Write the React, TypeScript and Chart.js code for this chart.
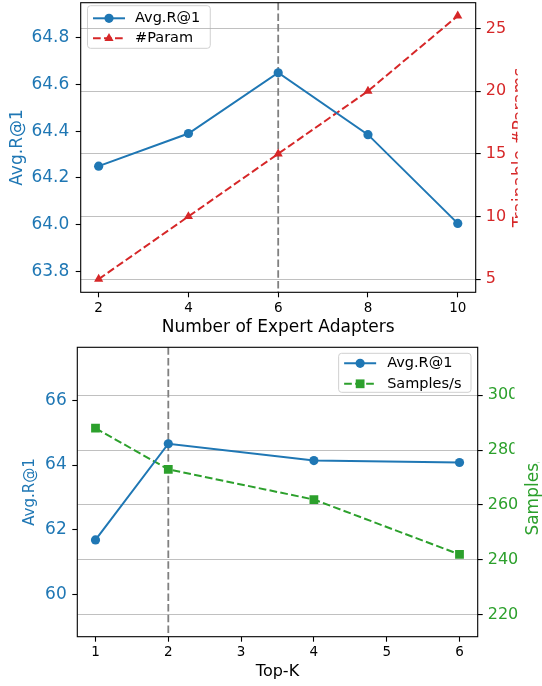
import React, { useEffect, useRef } from 'react';
import { Chart, registerables } from 'chart.js';

Chart.register(...registerables);

const FONT = 'DejaVu Sans';
const BLUE = '#1f77b4';
const RED = '#d62728';
const GREEN = '#2ca02c';
const GRID = 'rgba(176,176,176,0.8)';

// ---- Top panel: number of expert adapters ----
const expertCounts = [2, 4, 6, 8, 10];
const expertAvgR1 = [64.25, 64.39, 64.65, 64.385, 64.005];
const expertParams = [5, 10, 15, 20, 26];
const expertXTicks = [2, 4, 6, 8, 10];
const expertAvgTicks = [63.8, 64.0, 64.2, 64.4, 64.6, 64.8];
const expertParamTicks = [5, 10, 15, 20, 25];
const expertHighlight = 6;

// ---- Bottom panel: Top-K ----
const topK = [1, 2, 4, 6];
const topKAvgR1 = [61.68, 64.66, 64.14, 64.08];
const topKSamples = [288, 273, 262, 242];
const topKXTicks = [1, 2, 3, 4, 5, 6];
const topKAvgTicks = [60, 62, 64, 66];
const topKSampleTicks = [220, 240, 260, 280, 300];
const topKHighlight = 2;

function drawMarker(ctx: CanvasRenderingContext2D, style: string, x: number, y: number, r: number, color: string) {
  ctx.save();
  ctx.fillStyle = color;
  ctx.setLineDash([]);
  ctx.beginPath();
  if (style === 'triangle') {
    let a = 0;
    ctx.moveTo(x + Math.sin(a) * r, y - Math.cos(a) * r);
    a += (2 * Math.PI) / 3;
    ctx.lineTo(x + Math.sin(a) * r, y - Math.cos(a) * r);
    a += (2 * Math.PI) / 3;
    ctx.lineTo(x + Math.sin(a) * r, y - Math.cos(a) * r);
    ctx.closePath();
  } else if (style === 'rect') {
    const h = r / Math.SQRT2;
    ctx.rect(x - h, y - h, 2 * h, 2 * h);
  } else {
    ctx.arc(x, y, r, 0, Math.PI * 2);
  }
  ctx.fill();
  ctx.restore();
}

const decorPlugin = {
  id: 'decor',
  beforeDraw(chart: any, _a: any, o: any) {
    const lg = o.legend;
    if (!lg) return;
    const { ctx, chartArea } = chart;
    const ds = chart.data.datasets;
    ctx.save();
    ctx.font = `${lg.fontSize}px ${FONT}`;
    const textW = Math.max(...ds.map((d: any) => ctx.measureText(d.label).width));
    const w = lg.padL + lg.lineLen + lg.gap + textW + lg.padR;
    const h = lg.height;
    const x = lg.anchor === 'left' ? chartArea.left + lg.dx : chartArea.right - lg.dx - w;
    const y = chartArea.top + lg.dy;
    const rr = 3;
    ctx.beginPath();
    ctx.moveTo(x + rr, y);
    ctx.lineTo(x + w - rr, y);
    ctx.arcTo(x + w, y, x + w, y + rr, rr);
    ctx.lineTo(x + w, y + h - rr);
    ctx.arcTo(x + w, y + h, x + w - rr, y + h, rr);
    ctx.lineTo(x + rr, y + h);
    ctx.arcTo(x, y + h, x, y + h - rr, rr);
    ctx.lineTo(x, y + rr);
    ctx.arcTo(x, y, x + rr, y, rr);
    ctx.closePath();
    ctx.fillStyle = 'rgba(255,255,255,0.8)';
    ctx.fill();
    ctx.strokeStyle = '#d0d0d0';
    ctx.lineWidth = 1;
    ctx.stroke();
    ds.forEach((d: any, i: number) => {
      const cy = y + lg.firstRow + i * lg.rowGap;
      const lx = x + lg.padL;
      ctx.save();
      ctx.strokeStyle = d.borderColor;
      ctx.lineWidth = d.borderWidth;
      ctx.setLineDash(d.borderDash || []);
      ctx.beginPath();
      ctx.moveTo(lx, cy);
      ctx.lineTo(lx + lg.lineLen, cy);
      ctx.stroke();
      ctx.restore();
      drawMarker(ctx, d.pointStyle, lx + lg.lineLen / 2, cy, d.pointRadius, d.borderColor);
      ctx.fillStyle = '#000';
      ctx.textAlign = 'left';
      ctx.textBaseline = 'middle';
      ctx.fillText(d.label, lx + lg.lineLen + lg.gap, cy);
    });
    ctx.restore();
  },
  beforeDatasetsDraw(chart: any, _a: any, o: any) {
    const { ctx, chartArea } = chart;
    const px = chart.scales.x.getPixelForValue(o.vline);
    ctx.save();
    ctx.strokeStyle = '#808080';
    ctx.lineWidth = 1.8;
    ctx.setLineDash([7.5, 3.2]);
    ctx.beginPath();
    ctx.moveTo(px, chartArea.top);
    ctx.lineTo(px, chartArea.bottom);
    ctx.stroke();
    ctx.restore();
  },
  afterDatasetsDraw(chart: any) {
    const { ctx, chartArea } = chart;
    ctx.save();
    ctx.strokeStyle = '#000';
    ctx.lineWidth = 1.1;
    ctx.setLineDash([]);
    ctx.strokeRect(chartArea.left, chartArea.top, chartArea.right - chartArea.left, chartArea.bottom - chartArea.top);
    ctx.restore();
  },
  afterDraw(chart: any, _a: any, o: any) {
    const t = o.rightTitle;
    if (!t) return;
    const { ctx, chartArea } = chart;
    ctx.save();
    ctx.beginPath();
    ctx.rect(0, 0, t.clipX, chart.height);
    ctx.clip();
    ctx.translate(t.baselineX, (chartArea.top + chartArea.bottom) / 2);
    ctx.rotate(-Math.PI / 2);
    ctx.font = `${t.fontSize}px ${FONT}`;
    ctx.fillStyle = t.color;
    ctx.textAlign = 'center';
    ctx.textBaseline = 'alphabetic';
    ctx.fillText(t.text, 0, 0);
    ctx.restore();
    if (t.cover) {
      ctx.save();
      ctx.fillStyle = '#ffffff';
      ctx.fillRect(t.cover[0], t.cover[1], t.cover[2], t.cover[3]);
      ctx.restore();
    }
  },
};

const fixWidth = (w: number) => (scale: any) => {
  scale.width = w;
  scale.paddingTop = 0;
  scale.paddingBottom = 0;
  scale.paddingLeft = 0;
  scale.paddingRight = 0;
};
const fixHeight = (h: number) => (scale: any) => {
  scale.height = h;
  scale.paddingTop = 0;
  scale.paddingBottom = 0;
  scale.paddingLeft = 0;
  scale.paddingRight = 0;
};
const setTicks = (vals: number[]) => (scale: any) => {
  scale.ticks = vals.map((v) => ({ value: v }));
};

function buildConfig(p: any): any {
  const tickGrid = { drawOnChartArea: false, drawTicks: true, tickLength: 5, tickWidth: 1.1, tickColor: '#000' };
  return {
    type: 'line',
    data: {
      datasets: [
        {
          label: p.s1.label,
          data: p.xs.map((x: number, i: number) => ({ x, y: p.s1.values[i] })),
          yAxisID: 'y',
          borderColor: p.s1.color,
          backgroundColor: p.s1.color,
          borderWidth: 2,
          borderDash: p.s1.dash,
          pointStyle: p.s1.marker,
          pointRadius: p.s1.radius,
          pointHoverRadius: p.s1.radius,
          pointBorderWidth: 0,
          tension: 0,
          fill: false,
        },
        {
          label: p.s2.label,
          data: p.xs.map((x: number, i: number) => ({ x, y: p.s2.values[i] })),
          yAxisID: 'y1',
          borderColor: p.s2.color,
          backgroundColor: p.s2.color,
          borderWidth: 2,
          borderDash: p.s2.dash,
          pointStyle: p.s2.marker,
          pointRadius: p.s2.radius,
          pointHoverRadius: p.s2.radius,
          pointBorderWidth: 0,
          tension: 0,
          fill: false,
        },
      ],
    },
    options: {
      animation: false,
      responsive: true,
      maintainAspectRatio: false,
      devicePixelRatio: 1,
      events: [],
      layout: { padding: { top: p.padTop, left: 0, right: 0, bottom: 0 }, autoPadding: false },
      plugins: {
        legend: { display: false },
        tooltip: { enabled: false },
        decor: { legend: p.legend, vline: p.vline, rightTitle: p.rightTitle },
      },
      scales: {
        x: {
          type: 'linear',
          position: 'bottom',
          min: p.xRange[0],
          max: p.xRange[1],
          afterBuildTicks: setTicks(p.xTicks),
          afterFit: fixHeight(p.xAxisH),
          grid: tickGrid,
          border: { display: false },
          ticks: { color: '#000', font: { family: FONT, size: 13.5 }, padding: p.xTickPad, autoSkip: false, maxRotation: 0 },
          title: {
            display: true,
            text: p.xTitle,
            color: '#000',
            font: { family: FONT, size: p.xTitleSize },
            padding: { top: 0, bottom: p.xTitlePad },
          },
        },
        y: {
          type: 'linear',
          position: 'left',
          min: p.yRange[0],
          max: p.yRange[1],
          afterBuildTicks: setTicks(p.yTicks),
          afterFit: fixWidth(p.leftW),
          grid: tickGrid,
          border: { display: false },
          ticks: {
            color: p.s1.color,
            font: { family: FONT, size: 17 },
            padding: p.yTickPad,
            autoSkip: false,
            callback: (v: any) => Number(v).toFixed(p.yDecimals),
          },
          title: {
            display: true,
            text: p.yTitle,
            color: p.s1.color,
            font: { family: FONT, size: p.yTitleSize },
            padding: { top: p.yTitlePad, bottom: 0 },
          },
        },
        y1: {
          type: 'linear',
          position: 'right',
          min: p.y1Range[0],
          max: p.y1Range[1],
          afterBuildTicks: setTicks(p.y1Ticks),
          afterFit: fixWidth(p.rightW),
          grid: { drawOnChartArea: true, drawTicks: true, color: GRID, lineWidth: 1.1, tickLength: 5, tickWidth: 1.1, tickColor: '#000' },
          border: { display: false },
          ticks: {
            color: p.s2.color,
            font: { family: FONT, size: 16 },
            padding: 5,
            autoSkip: false,
            callback: (v: any) => String(v),
          },
        },
      },
    },
    plugins: [decorPlugin],
  };
}

const topPanel = {
  xs: expertCounts,
  s1: { label: 'Avg.R@1', values: expertAvgR1, color: BLUE, dash: [], marker: 'circle', radius: 4.6 },
  s2: { label: '#Param', values: expertParams, color: RED, dash: [7.7, 3.3], marker: 'triangle', radius: 5.3 },
  xRange: [1.6, 10.4],
  yRange: [63.71, 64.95],
  y1Range: [3.95, 27.05],
  xTicks: expertXTicks,
  yTicks: expertAvgTicks,
  y1Ticks: expertParamTicks,
  yDecimals: 1,
  padTop: 2.7,
  leftW: 80.7,
  rightW: 66.3,
  xAxisH: 47.7,
  xTickPad: 3,
  yTickPad: 6.4,
  xTitle: 'Number of Expert Adapters',
  xTitleSize: 17,
  xTitlePad: 2,
  yTitle: 'Avg.R@1',
  yTitleSize: 17,
  yTitlePad: 7.3,
  vline: expertHighlight,
  legend: { anchor: 'left', dx: 6.8, dy: 3, height: 42.6, firstRow: 12.6, rowGap: 20, padL: 5.5, lineLen: 32, gap: 10, padR: 10, fontSize: 14.5 },
  rightTitle: { text: 'Trainable #Params', color: RED, fontSize: 17, baselineX: 525.4, clipX: 517.7 },
};

const bottomPanel = {
  xs: topK,
  s1: { label: 'Avg.R@1', values: topKAvgR1, color: BLUE, dash: [], marker: 'circle', radius: 4.6 },
  s2: { label: 'Samples/s', values: topKSamples, color: GREEN, dash: [7.7, 3.3], marker: 'rect', radius: 6.2 },
  xRange: [0.75, 6.25],
  yRange: [58.68, 67.65],
  y1Range: [212, 317.5],
  xTicks: topKXTicks,
  yTicks: topKAvgTicks,
  y1Ticks: topKSampleTicks,
  yDecimals: 0,
  padTop: 7.3,
  leftW: 77.3,
  rightW: 64.3,
  xAxisH: 49.3,
  xTickPad: 2.5,
  yTickPad: 5.6,
  xTitle: 'Top-K',
  xTitleSize: 16,
  xTitlePad: 5,
  yTitle: 'Avg.R@1',
  yTitleSize: 15,
  yTitlePad: 21,
  vline: topKHighlight,
  legend: { anchor: 'right', dx: 6.7, dy: 6, height: 39, firstRow: 10, rowGap: 20.5, padL: 5.5, lineLen: 32, gap: 11, padR: 9.5, fontSize: 14.5 },
  rightTitle: { text: 'Samples/s', color: GREEN, fontSize: 17, baselineX: 538, clipX: 542, cover: [514.5, 0, 30, 122.5] },
};

function Panel({ panel, height }: { panel: any; height: number }) {
  const ref = useRef<HTMLCanvasElement | null>(null);
  useEffect(() => {
    if (!ref.current) return;
    const chart = new Chart(ref.current, buildConfig(panel));
    return () => chart.destroy();
  }, [panel]);
  return (
    <div style={{ position: 'relative', width: 542, height }}>
      <canvas ref={ref} />
    </div>
  );
}

export default function App() {
  return (
    <div style={{ position: 'absolute', left: 0, top: 0, width: 542, height: 686, background: '#fff' }}>
      <Panel panel={topPanel} height={340} />
      <Panel panel={bottomPanel} height={346} />
    </div>
  );
}
